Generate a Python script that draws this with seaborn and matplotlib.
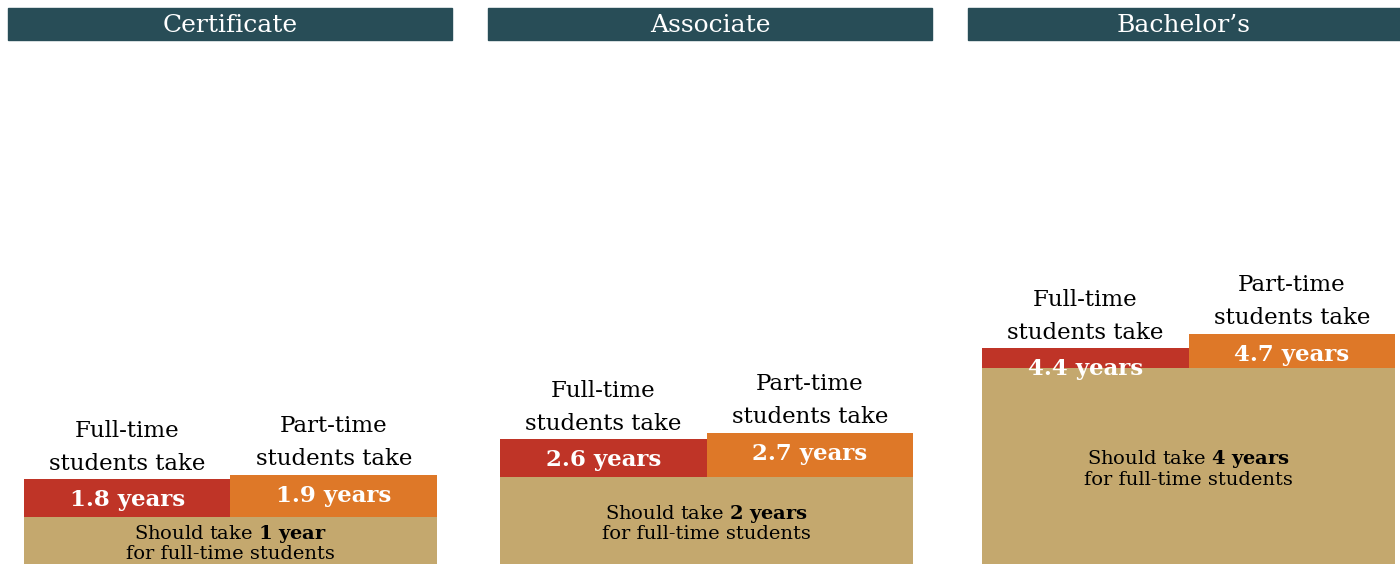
import matplotlib.pyplot as plt
import seaborn as sns
from matplotlib.patches import Rectangle

# data
degrees = ["Certificate", "Associate", "Bachelor’s"]
groups = ["Full-time", "Part-time"]
should_take = [1, 2, 4]
full_time = [1.8, 2.6, 4.4]
part_time = [1.9, 2.7, 4.7]

red = "#bf3427"
orange = "#de7828"
tan = "#c4a86e"
teal = "#284d57"

sns.set_style("white")
plt.rcParams['font.family'] = ['DejaVu Serif']
plt.rcParams['text.color'] = 'black'
plt.rcParams['mathtext.fontset'] = 'custom'
plt.rcParams['mathtext.rm'] = 'DejaVu Serif'
plt.rcParams['mathtext.bf'] = 'DejaVu Serif:bold'

W, H = 1400, 564
fig = plt.figure(figsize=(W / 100, H / 100), dpi=100)

# layout in pixels
panel_left = [24, 500, 982]
panel_w = 413
head_left = [8, 488, 968]
head_w = [444, 444, 432]
ylims = [(0, 10.98), (0.619, 8.81), (0, 10.53)]
ax_top = 48

for i, deg in enumerate(degrees):
    # header band
    fig.patches.append(Rectangle((head_left[i] / W, (H - 40) / H), head_w[i] / W, 32 / H,
                                 transform=fig.transFigure, color=teal, zorder=0))
    fig.text((head_left[i] + head_w[i] / 2) / W, (H - 25) / H, deg, color="white",
             fontsize=18, ha="center", va="center")

    ax = fig.add_axes([panel_left[i] / W, 0, panel_w / W, (H - ax_top) / H])
    vals = [full_time[i], part_time[i]]
    sns.barplot(x=groups, y=vals, hue=groups, palette=[red, orange], width=1.0,
                saturation=1, legend=False, linewidth=0, ax=ax)
    ax.bar(0.5, should_take[i], width=2, color=tan, linewidth=0, zorder=3)
    ax.set_xlim(-0.5, 1.5)
    ax.set_ylim(*ylims[i])
    ax.axis("off")

    for j, v in enumerate(vals):
        ax.annotate(groups[j] + "\nstudents take", xy=(j, v), xytext=(0, 23),
                    textcoords="offset points", ha="center", va="center",
                    fontsize=16.5, linespacing=1.65)
        ax.annotate(f"{v} years", xy=(j, v), xytext=(0, -15),
                    textcoords="offset points", ha="center", va="center",
                    fontsize=16.5, fontweight="bold", color="white", zorder=5)

    n = should_take[i]
    yrs = f"{n}\\ year" + ("s" if n > 1 else "")
    mid = (ylims[i][0] + n) / 2
    ax.annotate("Should take $\\mathbf{" + yrs + "}$", xy=(0.5, mid), xytext=(0, 5),
                textcoords="offset points", ha="center", va="center", fontsize=14, zorder=5)
    ax.annotate("for full-time students", xy=(0.5, mid), xytext=(0, -10),
                textcoords="offset points", ha="center", va="center", fontsize=14, zorder=5)

fig.savefig("out.png", dpi=100)
